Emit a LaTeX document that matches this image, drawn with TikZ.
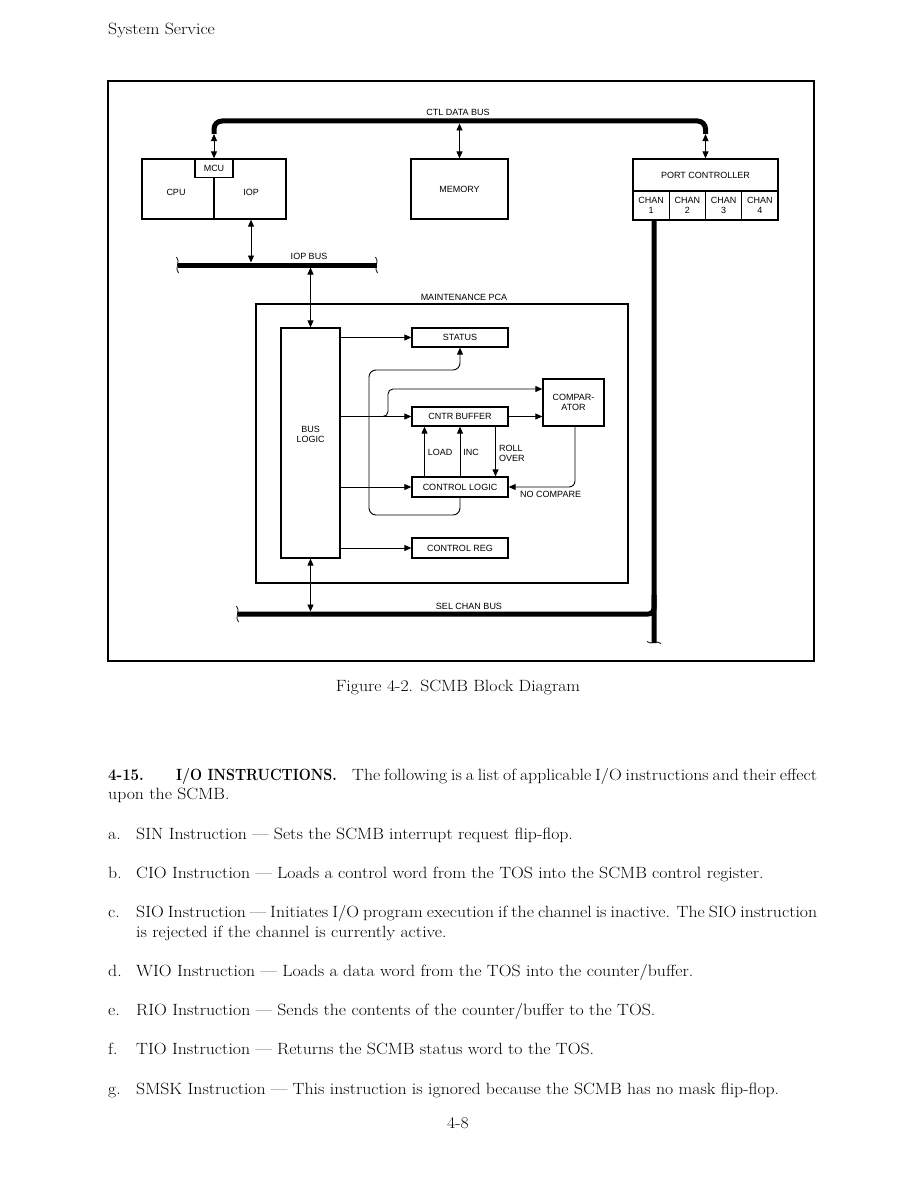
\documentclass[tikz,border=0pt]{standalone}
\usepackage{fontspec}
\setsansfont{Liberation Sans}
\usetikzlibrary{arrows.meta,calc}
\newcommand\dlab{\sffamily\fontsize{9}{10}\selectfont}
\newcommand\bodyfont{\fontsize{16.3}{20}\selectfont}
\newcommand\bt[1]{\scalebox{1.09}[1]{#1}}
\begin{document}
\begin{tikzpicture}[x=1pt,y=-1pt,
  box/.style={draw, line width=1.3pt, inner sep=0pt, align=center, font=\dlab},
  lbl/.style={inner sep=0pt, align=center, font=\dlab},
  bus/.style={line width=5pt},
  ar/.style={line width=0.9pt, -{Triangle[length=7pt,width=6pt]}},
  dar/.style={line width=0.9pt, {Triangle[length=7pt,width=6pt]}-{Triangle[length=7pt,width=6pt]}},
  brk/.style={line width=0.8pt},
  body/.style={anchor=base west, inner sep=0pt, font=\bodyfont},
]
\fill[white] (0,0) rectangle (918,1188);
\useasboundingbox (0,0) rectangle (918,1188);

% frame
\draw[line width=1.2pt] (108,81) rectangle (814,661);

% boxes
\node[box, minimum width=144pt, minimum height=60pt] (cpu) at (214,189) {};
\node[box, minimum width=38pt, minimum height=18.5pt] (mcu) at (214,168.25) {MCU};
\draw[line width=1.1pt] (mcu.south) -- (cpu.south);
\node[lbl] (cpul) at (176,192) {CPU};
\node[lbl] (iopl) at (251,192) {IOP};
\node[box, minimum width=97pt, minimum height=60pt] (memory) at (459.5,189) {MEMORY};
\node[box, minimum width=145pt, minimum height=32pt] (portc) at (705.5,175) {PORT CONTROLLER};
\node[box, minimum width=36.25pt, minimum height=29pt] (chan1) at (651.125,205.5) {CHAN\\1};
\node[box, minimum width=36.25pt, minimum height=29pt] (chan2) at (687.375,205.5) {CHAN\\2};
\node[box, minimum width=36.25pt, minimum height=29pt] (chan3) at (723.625,205.5) {CHAN\\3};
\node[box, minimum width=36.25pt, minimum height=29pt] (chan4) at (759.875,205.5) {CHAN\\4};

\node[box, minimum width=372pt, minimum height=279pt] (maint) at (442,443.5) {};
\node[lbl] (maintl) at (464,297) {MAINTENANCE PCA};
\node[box, minimum width=59pt, minimum height=230pt] (buslogic) at (310.5,443) {};
\node[lbl] (buslogicl) at (310.5,434) {BUS\\LOGIC};
\node[box, minimum width=96pt, minimum height=19pt] (status) at (460,337.5) {STATUS};
\node[box, minimum width=96pt, minimum height=19pt] (cntr) at (460,416.5) {CNTR BUFFER};
\node[box, minimum width=61pt, minimum height=47pt] (comp) at (573.5,402.5) {COMPAR-\\ATOR};
\node[box, minimum width=96pt, minimum height=20pt] (ctrl) at (460,487) {CONTROL LOGIC};
\node[box, minimum width=96pt, minimum height=20pt] (ctrlreg) at (460,548) {CONTROL REG};

% CTL data bus
\coordinate (ctlL) at (214,134);
\coordinate (ctlTL) at (214,121);
\coordinate (ctlTR) at (705.5,121);
\coordinate (ctlR) at (705.5,134);
\coordinate (ctlM) at (459.5,123.5);
\draw[bus, rounded corners=8pt] (ctlL) -- (ctlTL) -- (ctlTR) -- (ctlR);
\node[lbl] (ctll) at (458,112) {CTL DATA BUS};
\draw[dar] (ctlL) -- (mcu.north);
\draw[dar] (ctlM) -- (memory.north);
\draw[dar] (ctlR) -- (portc.north);

% IOP bus
\coordinate (iopL) at (178,265);
\coordinate (iopR) at (377,265);
\draw[bus] (iopL) -- (iopR);
\draw[brk] (176.5,257) .. controls (181,261) and (174,269) .. (178.5,273);
\draw[brk] (375.5,257) .. controls (380,261) and (373,269) .. (377.5,273);
\node[lbl] (iopbl) at (309,256) {IOP BUS};
\coordinate (iopA) at (251,262.5);
\coordinate (iopB) at (310.5,267.5);
\draw[dar] ([xshift=37pt]cpu.south) -- (iopA);
\draw[dar] (iopB) -- (buslogic.north);

% channel bus and SEL CHAN BUS
\coordinate (chanBot) at (654,643);
\draw[bus] ([xshift=2.9pt]chan1.south) -- (chanBot);
\draw[brk] (647,641.5) .. controls (651,645.5) and (657,639.5) .. (661,643.5);
\coordinate (selL) at (238,614);
\coordinate (selR) at (654,595);
\draw[bus, rounded corners=6pt] (selL) -| (selR);
\draw[brk] (236.5,606) .. controls (241,610) and (234,618) .. (238.5,622);
\node[lbl] (sell) at (469,606) {SEL CHAN BUS};
\coordinate (selA) at (310.5,611.5);
\draw[dar] (buslogic.south) -- (selA);

% internal connections
\draw[ar] (buslogic.east |- status.west) -- (status.west);
\draw[ar] (buslogic.east |- cntr.west) -- (cntr.west);
\draw[ar] (buslogic.east |- ctrl.west) -- (ctrl.west);
\draw[ar] (buslogic.east |- ctrlreg.west) -- (ctrlreg.west);
\coordinate (brA) at (378,416.5);
\coordinate (brB) at (388,389);
\draw[ar, rounded corners=5pt] (brA) -| (brB) -- (comp.west |- brB);
\draw[ar] (cntr.east) -- (comp.west |- cntr.east);
\coordinate (lpA) at (369,515);
\coordinate (lpB) at (460,370);
\draw[ar, rounded corners=7pt] (ctrl.south) |- (lpA) |- (lpB) -- (status.south);
\draw[ar] ([xshift=-35.5pt]ctrl.north) -- ([xshift=-35.5pt]cntr.south);
\draw[ar] (ctrl.north) -- (cntr.south);
\draw[ar] ([xshift=35.5pt]cntr.south) -- ([xshift=35.5pt]ctrl.north);
\draw[ar, rounded corners=6pt] ([xshift=1.5pt]comp.south) |- (ctrl.east);
\node[lbl] (loadl) at (440,452) {LOAD};
\node[lbl] (incl) at (471,452) {INC};
\node[lbl, anchor=west, align=left] (rolll) at (499,453) {ROLL\\OVER};
\node[lbl, anchor=west] (ncl) at (520,494) {NO COMPARE};

% page text
\node[body] (hdr) at (108,35) {\bt{System Service}};
\node[body, anchor=base] (cap) at (458,691) {\bt{Figure 4-2. SCMB Block Diagram}};
\node[body] (p1a) at (108,780.5) {\scalebox{0.92}[1]{\bfseries 4-15.}};
\node[body] (p1b) at (176,780.5) {\scalebox{0.875}[1]{\bfseries I/O INSTRUCTIONS.}};
\node[body] (p1c) at (352,780.5) {\bt{\makebox[426.6pt][s]{The following is a list of applicable I/O instructions and their effect}}};
\node[body] (p2) at (108,799.5) {\bt{upon the SCMB.}};
\node[body] (ia) at (108,839.3) {\bt{a.}};
\node[body] (ta) at (136,839.3) {\bt{SIN Instruction --- Sets the SCMB interrupt request flip-flop.}};
\node[body] (ib) at (108,878.3) {\bt{b.}};
\node[body] (tb) at (136,878.3) {\bt{CIO Instruction --- Loads a control word from the TOS into the SCMB control register.}};
\node[body] (ic) at (108,917.3) {\bt{c.}};
\node[body] (tc) at (136,917.3) {\bt{\makebox[624.8pt][s]{SIO Instruction --- Initiates I/O program execution if the channel is inactive. The SIO instruction}}};
\node[body] (tc2) at (136,937) {\bt{is rejected if the channel is currently active.}};
\node[body] (id) at (108,976.3) {\bt{d.}};
\node[body] (td) at (136,976.3) {\bt{WIO Instruction --- Loads a data word from the TOS into the counter/buffer.}};
\node[body] (ie) at (108,1015.3) {\bt{e.}};
\node[body] (te) at (136,1015.3) {\bt{RIO Instruction --- Sends the contents of the counter/buffer to the TOS.}};
\node[body] (if) at (108,1054.3) {\bt{f.}};
\node[body] (tf) at (136,1054.3) {\bt{TIO Instruction --- Returns the SCMB status word to the TOS.}};
\node[body] (ig) at (108,1094.3) {\bt{g.}};
\node[body] (tg) at (136,1094.3) {\bt{SMSK Instruction --- This instruction is ignored because the SCMB has no mask flip-flop.}};
\node[body, anchor=base] (pg) at (458,1128) {\bt{4-8}};
\end{tikzpicture}
\end{document}
